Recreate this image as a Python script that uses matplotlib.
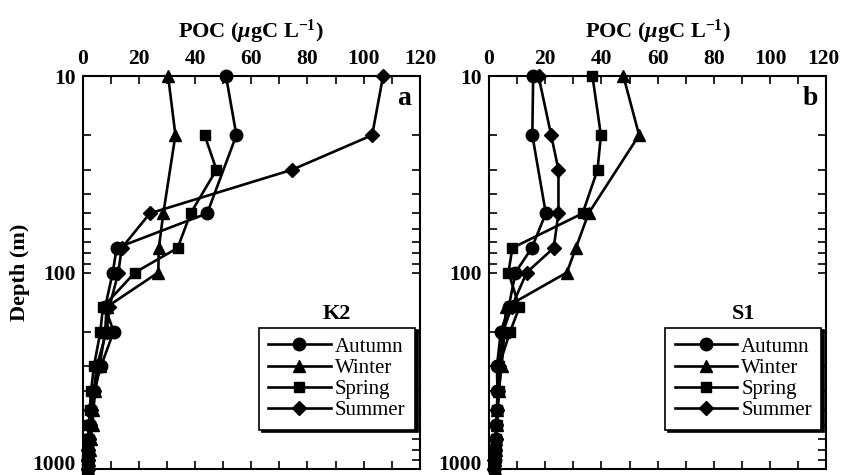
import numpy as np
import matplotlib.pyplot as plt
from matplotlib.ticker import MultipleLocator, FixedLocator, NullFormatter
from matplotlib.transforms import ScaledTranslation

plt.rcParams['font.family'] = 'Liberation Serif'
plt.rcParams['mathtext.fontset'] = 'custom'
plt.rcParams['mathtext.rm'] = 'Liberation Serif:bold'
plt.rcParams['mathtext.it'] = 'Liberation Serif:italic:bold'
plt.rcParams['mathtext.bf'] = 'Liberation Serif:bold'

seasons = ["Autumn", "Winter", "Spring", "Summer"]
markers = ["o", "^", "s", "D"]
msizes = [9, 8, 7, 7]

# K2
k2_autumn_d = [10, 20, 50, 75, 100, 150, 200, 300, 400, 500, 600, 700, 800, 900, 1000]
k2_autumn = [51, 54.7, 44.3, 12.1, 10.7, 8.0, 11.0, 6.5, 4.0, 2.8, 2.5, 2.2, 2.0, 2.0, 1.8]
k2_winter_d = [10, 20, 50, 75, 100, 150, 200, 300, 400, 500, 600, 700, 800, 900, 1000]
k2_winter = [30.4, 33.0, 28.7, 27.1, 26.9, 8.5, 8.0, 6.0, 4.5, 3.8, 3.5, 2.8, 2.5, 2.2, 2.0]
k2_spring_d = [20, 30, 50, 75, 100, 150, 200, 300, 400, 500, 600, 700, 800, 900, 1000]
k2_spring = [43.4, 47.6, 38.4, 33.8, 18.6, 7.2, 6.3, 4.0, 3.0, 2.5, 2.2, 2.0, 1.8, 1.7, 1.6]
k2_summer_d = [10, 20, 30, 50, 75, 100, 150, 200, 300, 400, 500, 600, 700, 800, 900, 1000]
k2_summer = [106.9, 103.0, 74.5, 23.9, 13.9, 12.7, 9.5, 8.5, 5.0, 4.0, 3.0, 2.5, 2.2, 2.0, 1.9, 1.8]

# S1
s1_autumn_d = [10, 20, 50, 75, 100, 150, 200, 300, 400, 500, 600, 700, 800, 900, 1000]
s1_autumn = [15.7, 15.4, 20.2, 15.2, 9.4, 7.0, 4.2, 2.8, 3.0, 2.8, 2.5, 2.3, 2.0, 2.0, 1.8]
s1_winter_d = [10, 20, 50, 75, 100, 150, 200, 300, 400, 500, 600, 700, 800, 900, 1000]
s1_winter = [47.8, 53.4, 35.4, 30.9, 27.7, 6.0, 5.5, 4.5, 3.5, 3.0, 2.8, 2.5, 2.3, 2.1, 2.0]
s1_spring_d = [10, 20, 30, 50, 75, 100, 150, 200, 300, 400, 500, 600, 700, 800, 900, 1000]
s1_spring = [36.8, 39.8, 38.6, 33.3, 8.3, 6.9, 10.8, 7.5, 3.5, 3.7, 3.0, 3.0, 2.5, 2.3, 2.1, 2.0]
s1_summer_d = [10, 20, 30, 50, 75, 100, 150, 200, 300, 400, 500, 600, 700, 800, 900, 1000]
s1_summer = [17.6, 22.1, 24.7, 24.7, 23.0, 13.4, 8.0, 5.0, 3.5, 3.2, 3.0, 2.6, 2.3, 2.1, 1.9, 1.8]

panels = [
    ("a", "K2", [(k2_autumn, k2_autumn_d), (k2_winter, k2_winter_d),
                 (k2_spring, k2_spring_d), (k2_summer, k2_summer_d)]),
    ("b", "S1", [(s1_autumn, s1_autumn_d), (s1_winter, s1_winter_d),
                 (s1_spring, s1_spring_d), (s1_summer, s1_summer_d)]),
]

fig = plt.figure(figsize=(8.41, 4.75), dpi=100)
lefts = [0.0983, 0.5815]
axes = []

for (lab, site, series), left in zip(panels, lefts):
    ax = fig.add_axes([left, 0.0126, 0.401, 0.8274])
    axes.append(ax)
    for (vals, dep), name, m, ms in zip(series, seasons, markers, msizes):
        ax.plot(vals, dep, color="black", lw=1.9, marker=m, ms=ms,
                label=name, clip_on=False, zorder=3)
    ax.set_yscale("log")
    ax.set_ylim(1000, 10)
    ax.set_xlim(0, 120)
    ax.xaxis.set_major_locator(MultipleLocator(20))
    ax.xaxis.set_minor_locator(MultipleLocator(10))
    ax.yaxis.set_major_locator(FixedLocator([10, 100, 1000]))
    ax.yaxis.set_major_formatter(plt.FuncFormatter(lambda v, p: "%d" % v))
    ax.yaxis.set_minor_formatter(NullFormatter())
    ax.xaxis.tick_top()
    ax.xaxis.set_label_position("top")
    ax.tick_params(which="both", direction="in", top=True, bottom=True,
                   left=True, right=True, length=6, width=1.2,
                   labelsize=15.5, pad=5)
    for s in ax.spines.values():
        s.set_linewidth(1.5)
    ax.set_xlabel(r"POC ($\mu$gC L$^{-1}$)", fontsize=16, fontweight="bold", labelpad=8)
    ax.text(0.975, 0.975, lab, transform=ax.transAxes, ha="right", va="top",
            fontsize=20, fontweight="bold")
    ax.text(0.755, 0.395, site, transform=ax.transAxes, ha="center", va="center",
            fontsize=16, fontweight="bold")
    leg = ax.legend(loc="lower right", bbox_to_anchor=(0.985, 0.1), frameon=True,
                    fancybox=False, edgecolor="black", framealpha=1,
                    shadow={"color": "black", "alpha": 1}, fontsize=15,
                    handlelength=3.0, handletextpad=0.2, labelspacing=0.08,
                    borderpad=0.45, borderaxespad=0)
    leg.get_frame().set_linewidth(1.2)

axes[0].set_ylabel("Depth (m)", fontsize=16, fontweight="bold", labelpad=2)

# bold tick labels; keep the edge labels ("1000", right "120") inside the figure
fig.canvas.draw()
for ax in axes:
    for tk in ax.yaxis.get_major_ticks() + ax.xaxis.get_major_ticks():
        tk.label1.set_fontweight("bold")
        tk.label2.set_fontweight("bold")
    for tk in ax.yaxis.get_major_ticks():
        t = tk.label1
        if t.get_text() == "1000":
            t.set_transform(t.get_transform() + ScaledTranslation(0, 5 / 72, fig.dpi_scale_trans))
for tk in axes[1].xaxis.get_major_ticks():
    t = tk.label2
    if t.get_text() == "120":
        t.set_transform(t.get_transform() + ScaledTranslation(-2 / 72, 0, fig.dpi_scale_trans))

fig.savefig("out.png", dpi=100)
